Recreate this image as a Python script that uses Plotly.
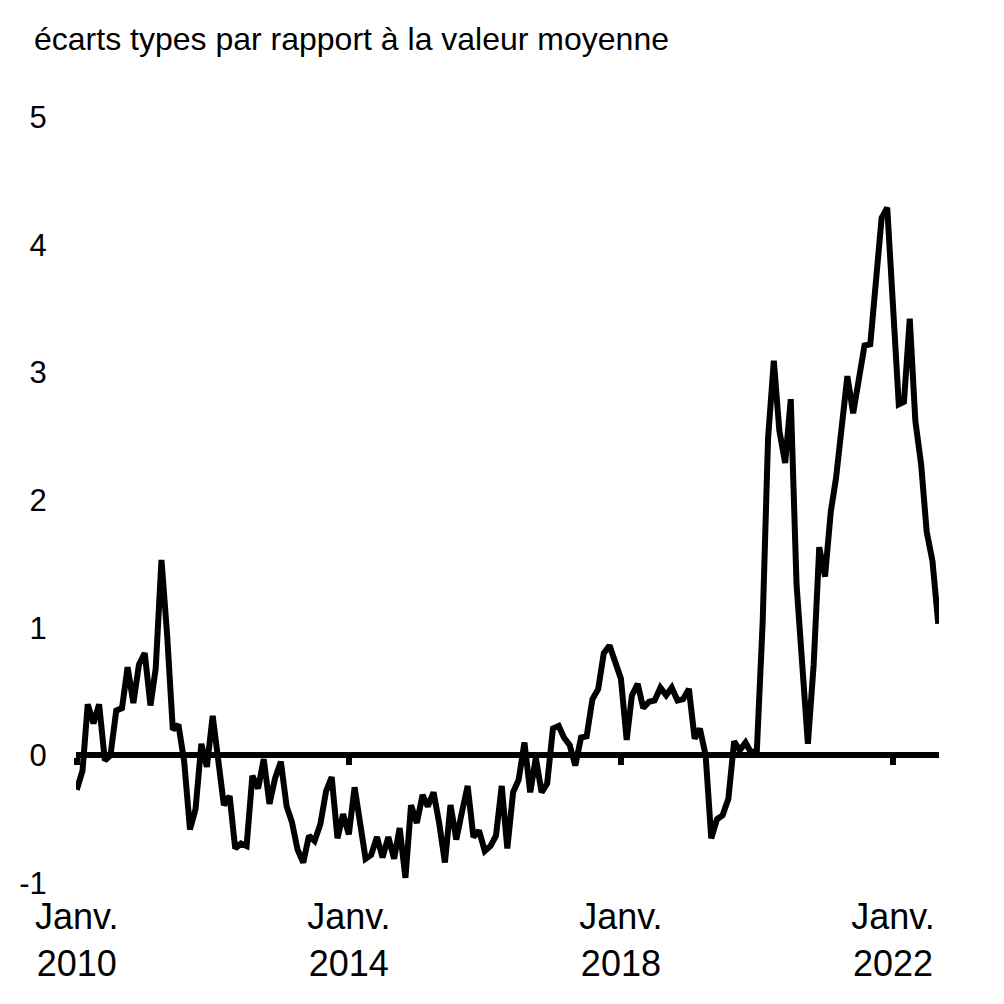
import pandas as pd
import plotly.graph_objects as go

# écarts types par rapport à la moyenne, données mensuelles à partir de janv. 2010
v2010 = [-0.27, -0.12, 0.40, 0.25, 0.40, -0.04, 0.00, 0.35, 0.37, 0.69, 0.41, 0.71]
v2011 = [0.80, 0.39, 0.68, 1.53, 0.95, 0.20, 0.24, -0.05, -0.58, -0.42, 0.09, -0.09]
v2012 = [0.31, -0.05, -0.39, -0.32, -0.73, -0.69, -0.71, -0.16, -0.26, -0.03, -0.38, -0.18]
v2013 = [-0.05, -0.40, -0.52, -0.74, -0.84, -0.63, -0.67, -0.54, -0.28, -0.17, -0.65, -0.46]
v2014 = [-0.62, -0.25, -0.54, -0.81, -0.78, -0.64, -0.80, -0.64, -0.81, -0.57, -0.96, -0.39]
v2015 = [-0.53, -0.31, -0.40, -0.29, -0.53, -0.84, -0.39, -0.66, -0.44, -0.24, -0.64, -0.59]
v2016 = [-0.75, -0.71, -0.63, -0.24, -0.73, -0.29, -0.19, 0.10, -0.29, -0.02, -0.29, -0.22]
v2017 = [0.21, 0.23, 0.14, 0.08, -0.08, 0.14, 0.15, 0.44, 0.52, 0.80, 0.86, 0.72]
v2018 = [0.60, 0.12, 0.47, 0.56, 0.37, 0.42, 0.43, 0.53, 0.47, 0.53, 0.43, 0.44]
v2019 = [0.52, 0.13, 0.21, 0.00, -0.65, -0.50, -0.47, -0.34, 0.11, 0.04, 0.10, 0.02]
v2020 = [0.04, 1.04, 2.48, 3.09, 2.54, 2.29, 2.79, 1.34, 0.65, 0.09, 0.71, 1.63]
v2021 = [1.40, 1.91, 2.17, 2.54, 2.97, 2.68, 2.95, 3.21, 3.22, 3.75, 4.21, 4.29]
v2022 = [3.58, 2.75, 2.77, 3.42, 2.62, 2.28, 1.75, 1.52, 1.03]

values = (v2010 + v2011 + v2012 + v2013 + v2014 + v2015 + v2016
          + v2017 + v2018 + v2019 + v2020 + v2021 + v2022)
months = pd.date_range("2010-01-01", periods=len(values), freq="MS")

tick_dates = ["2010-01-01", "2014-01-01", "2018-01-01", "2022-01-01"]
tick_labels = ["Janv.<br>2010", "Janv.<br>2014", "Janv.<br>2018", "Janv.<br>2022"]
y_ticks = [-1, 0, 1, 2, 3, 4, 5]
y_labels = ["-1", "0", "1", "2", "3", "4", "5"]

font = "Liberation Sans, Arial, sans-serif"

fig = go.Figure()
fig.add_trace(go.Scatter(x=months, y=values, mode="lines",
                         line=dict(color="black", width=6),
                         hoverinfo="skip", showlegend=False))
# axe du zéro avec ses marques
fig.add_trace(go.Scatter(x=[months[0], months[-1]], y=[None, None], xaxis="x2",
                         mode="lines", showlegend=False, hoverinfo="skip"))

xrange = ["2009-12-28", "2022-09-05"]

fig.update_layout(
    width=1004, height=1004,
    margin=dict(l=68, r=73, t=109, b=129),
    paper_bgcolor="white", plot_bgcolor="white",
    font=dict(family=font, color="black"),
    xaxis=dict(range=xrange, tickvals=tick_dates, ticktext=tick_labels,
               showgrid=False, zeroline=False, showline=False,
               ticks="outside", ticklen=2, tickcolor="rgba(0,0,0,0)",
               tickfont=dict(size=36, family=font)),
    xaxis2=dict(range=xrange, overlaying="x", anchor="free", position=1/6,
                side="bottom", tickvals=tick_dates, showticklabels=False,
                showgrid=False, zeroline=False, showline=True,
                linecolor="black", linewidth=6,
                ticks="outside", ticklen=7, tickwidth=6, tickcolor="black"),
    yaxis=dict(range=[-1, 5], tickvals=y_ticks, ticktext=y_labels,
               showgrid=False, zeroline=False, showline=False,
               ticks="outside", ticklen=22, tickcolor="rgba(0,0,0,0)",
               tickfont=dict(size=31, family=font)),
    annotations=[dict(text="écarts types par rapport à la valeur moyenne",
                      xref="paper", yref="paper", x=-44/863, y=1 + 78/766,
                      xanchor="left", yanchor="middle", showarrow=False,
                      font=dict(size=32, family=font, color="black"))],
)

fig.write_html("out.html")
